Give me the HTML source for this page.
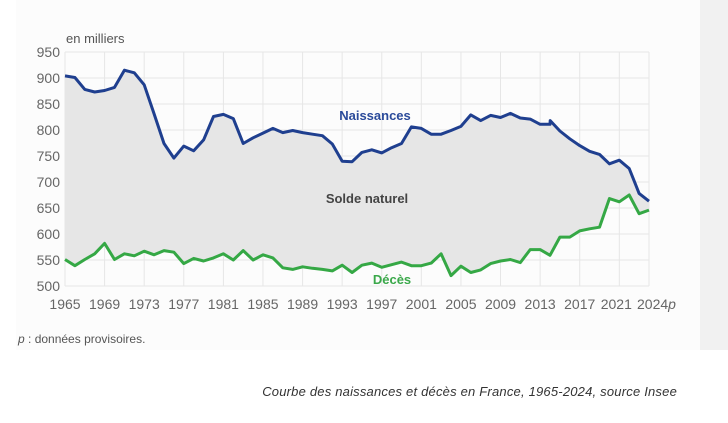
<!DOCTYPE html>
<html><head><meta charset="utf-8"><style>
html,body{margin:0;padding:0;background:#fff;}
body{width:728px;height:423px;position:relative;overflow:hidden;font-family:"Liberation Sans",sans-serif;}
.panel{position:absolute;left:16px;top:0;width:684px;height:350px;background:#fcfcfc;}
.band{position:absolute;left:700px;top:0;width:28px;height:350px;background:#f1f1f1;}
.cap{position:absolute;right:51px;top:384px;font-style:italic;font-size:13px;color:#333;letter-spacing:0.2px;}
</style></head><body>
<div class="panel"></div><div class="band"></div>
<svg id="s" width="728" height="423" style="position:absolute;left:0;top:0" font-family="Liberation Sans, sans-serif"></svg>
<div class="cap">Courbe des naissances et décès en France, 1965-2024, source Insee</div>
<script>
var B=[904,901,878,873,876,882,915,910,887,831,774,746,769,760,781,826,830,822,774,785,794,803,795,799,795,792,789,773,740,739,757,762,756,766,774,806,803,792,792,799,807,829,818,828,824,832,823,821,811,811,818,798,783,770,759,753,735,742,726,678,663];
var D=[551,539,551,562,582,551,562,558,567,560,568,565,543,553,548,554,562,550,568,550,560,554,535,532,537,534,532,529,540,526,540,544,536,541,546,539,539,544,562,520,538,526,531,543,548,551,545,570,570,559,594,594,606,610,613,668,662,675,639,646];
var bx=[];for(var i=0;i<60;i++){bx.push(i);if(i==49)bx.push(49.02);}
var X=function(t){return 65+t*(584/59)},Y=function(v){return 52+(950-v)*0.52};
var s='';
for(var v=500;v<=950;v+=50){s+='<line x1="65" x2="649" y1="'+Y(v)+'" y2="'+Y(v)+'" stroke="#e6e6e6" stroke-width="1"/>';
s+='<text x="60" y="'+(Y(v)+5)+'" text-anchor="end" font-size="14" fill="#666">'+v+'</text>';}
for(var y=1965;y<=2021;y+=4){s+='<line x1="'+X(y-1965)+'" x2="'+X(y-1965)+'" y1="52" y2="286" stroke="#e6e6e6"/>';
s+='<text x="'+(X(y-1965)-(y==2021?3:0))+'" y="309" text-anchor="middle" font-size="14" fill="#666">'+y+'</text>';}
s+='<line x1="649" x2="649" y1="52" y2="286" stroke="#e6e6e6"/>';
s+='<text x="637" y="309" text-anchor="start" font-size="14" fill="#666">2024<tspan font-style="italic">p</tspan></text>';
var bp=bx.map(function(t,i){return X(t).toFixed(1)+','+Y(B[i]).toFixed(1)});
var dp=D.map(function(v,i){return X(i).toFixed(1)+','+Y(v).toFixed(1)});
s+='<polygon points="'+bp.join(' ')+' '+dp.slice().reverse().join(' ')+'" fill="#e6e6e6"/>';
s+='<polyline points="'+dp.join(' ')+'" fill="none" stroke="#35a845" stroke-width="3" stroke-linejoin="round"/>';
s+='<polyline points="'+bp.join(' ')+'" fill="none" stroke="#1f3f8f" stroke-width="3" stroke-linejoin="round"/>';
s+='<text x="66" y="43" font-size="13" fill="#555">en milliers</text>';
s+='<text x="375" y="120" text-anchor="middle" font-size="13" font-weight="bold" fill="#2a4a9a">Naissances</text>';
s+='<text x="367" y="203" text-anchor="middle" font-size="13" font-weight="bold" fill="#444">Solde naturel</text>';
s+='<text x="392" y="284" text-anchor="middle" font-size="13" font-weight="bold" fill="#3aa84a">Décès</text>';
s+='<text x="18" y="343" font-size="12" fill="#555"><tspan font-style="italic">p</tspan> : données provisoires.</text>';
document.getElementById('s').innerHTML=s;
</script>
</body></html>
